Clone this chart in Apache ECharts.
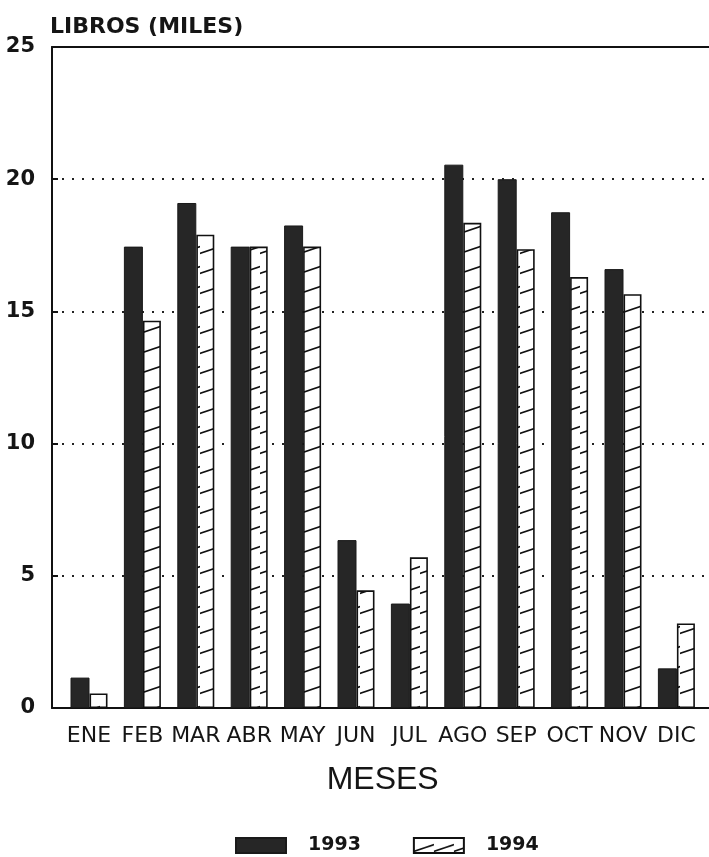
<!DOCTYPE html>
<html>
<head>
<meta charset="utf-8">
<script src="https://cdn.jsdelivr.net/npm/echarts@6/dist/echarts.min.js"></script>
<style>
html,body{margin:0;padding:0;background:#fff;}
#chart{width:709px;height:857px;}
</style>
</head>
<body>
<div id="chart"></div>
<script>
var months = ['ENE','FEB','MAR','ABR','MAY','JUN','JUL','AGO','SEP','OCT','NOV','DIC'];
var values1993 = [1.15, 17.45, 19.1, 17.45, 18.25, 6.35, 3.95, 20.55, 20.0, 18.75, 16.6, 1.5];
var values1994 = [0.55, 14.65, 17.9, 17.45, 17.45, 4.45, 5.7, 18.35, 17.35, 16.3, 15.65, 3.2];
var yTicks = [0, 5, 10, 15, 20, 25];
var seriesNames = ['1993', '1994'];

var cv = document.createElement('canvas');
cv.width = 20; cv.height = 20;
var cx = cv.getContext('2d');
cx.fillStyle = '#fff';
cx.fillRect(0,0,20,20);
cx.strokeStyle = '#111';
cx.lineWidth = 1.7;
cx.beginPath();
cx.moveTo(-2,14); cx.lineTo(22,6);
cx.stroke();

var chart = echarts.init(document.getElementById('chart'), null, {renderer:'canvas'});
var txt = '#151515';
chart.setOption({
  backgroundColor: '#fff',
  animation: false,
  legend: {
    left: 230, top: 831,
    itemWidth: 50, itemHeight: 15, itemGap: 52,
    textStyle: {fontFamily: 'DejaVu Sans', fontWeight: 'bold', fontSize: 19, color: txt, padding: [4,0,0,17]},
    data: [{name: seriesNames[0], icon: 'rect'}, {name: seriesNames[1], icon: 'rect'}]
  },
  grid: [
    {left: 52, right: 0, top: 47, bottom: 149},
    {left: 62.3, right: 5.9, top: 47, bottom: 149}
  ],
  xAxis: [
    {gridIndex: 0, type: 'value', min: 0, max: 1, position: 'bottom',
     axisLine: {show: true, onZero: false, lineStyle: {color: '#111', width: 2}},
     axisTick: {show: false}, axisLabel: {show: false}, splitLine: {show: false}},
    {gridIndex: 0, type: 'value', min: 0, max: 1, position: 'top',
     axisLine: {show: true, onZero: false, lineStyle: {color: '#111', width: 2}},
     axisTick: {show: false}, axisLabel: {show: false}, splitLine: {show: false}},
    {gridIndex: 1, type: 'category', data: months, position: 'bottom',
     axisLine: {show: false}, axisTick: {show: false},
     axisLabel: {interval: 0, margin: 17, fontFamily: 'DejaVu Sans', fontSize: 22, color: txt},
     name: 'MESES', nameLocation: 'middle', nameGap: 56,
     nameTextStyle: {fontFamily: 'Liberation Sans', fontSize: 32, color: txt}}
  ],
  yAxis: [
    {gridIndex: 0, type: 'value', min: yTicks[0], max: yTicks[yTicks.length-1], interval: 5,
     name: 'LIBROS (MILES)', nameLocation: 'end', nameGap: 9,
     nameTextStyle: {align: 'left', fontFamily: 'DejaVu Sans', fontWeight: 'bold', fontSize: 22, color: txt, padding: [0,0,0,-2]},
     axisLine: {show: true, lineStyle: {color: '#111', width: 2}},
     axisTick: {show: true, inside: true, length: 6, lineStyle: {color: '#111', width: 2}},
     axisLabel: {margin: 17, fontFamily: 'DejaVu Sans', fontWeight: 'bold', fontSize: 21, color: txt},
     splitLine: {show: true, lineStyle: {color: '#222', width: 2, type: [2, 8]}}},
    {gridIndex: 1, type: 'value', min: 0, max: 25, interval: 5, show: false, splitLine: {show: false}}
  ],
  series: [
    {name: seriesNames[0], type: 'bar', xAxisIndex: 2, yAxisIndex: 1, data: values1993,
     barWidth: 19, barGap: '0%',
     itemStyle: {color: '#262626', borderColor: '#1a1a1a', borderWidth: 1}},
    {name: seriesNames[1], type: 'bar', xAxisIndex: 2, yAxisIndex: 1, data: values1994,
     barWidth: 18, barGap: '0%',
     itemStyle: {color: {image: cv, repeat: 'repeat'}, borderColor: '#111', borderWidth: 1.6}}
  ]
});
</script>
</body>
</html>
